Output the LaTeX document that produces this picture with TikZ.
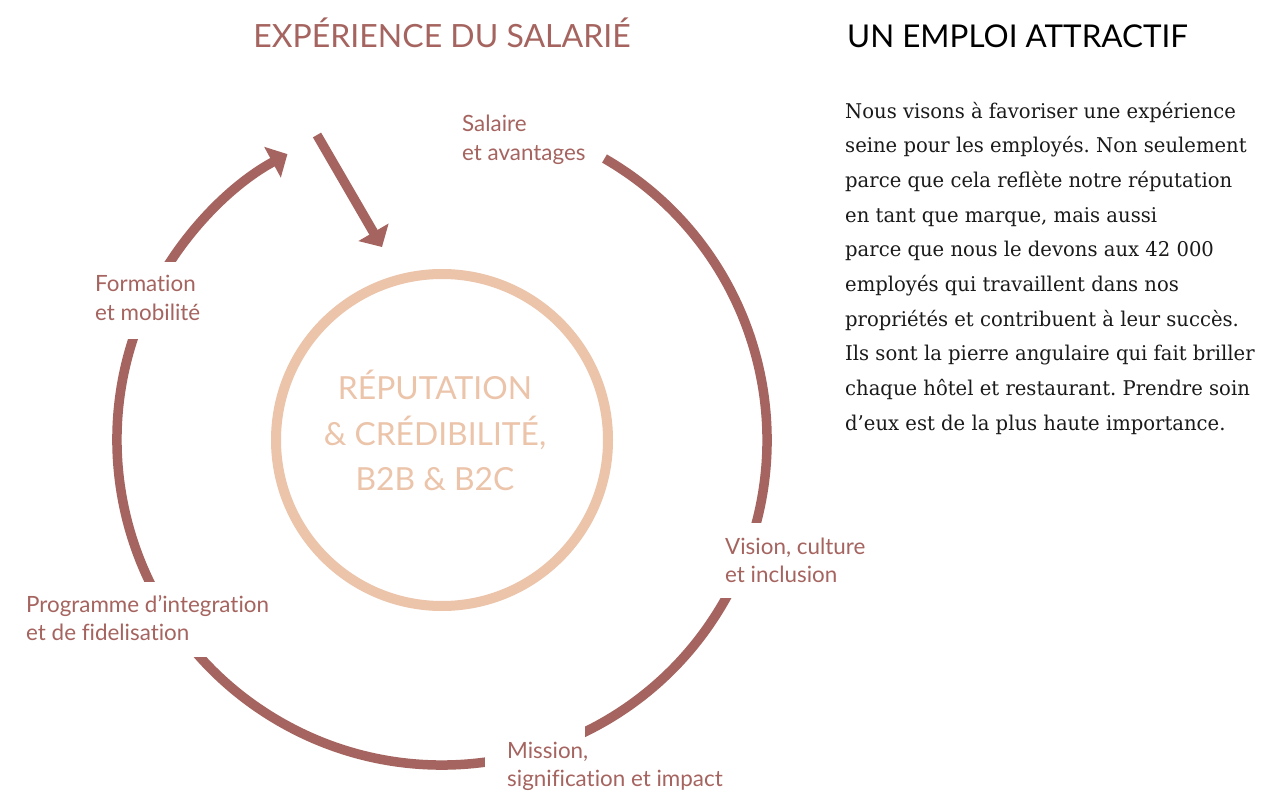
\documentclass[tikz,border=0pt]{standalone}
\usepackage{fontspec}
\setmainfont[FakeStretch=0.965]{DejaVu Serif}
\newfontfamily\labelfont[Ligatures=NoCommon]{Lato}
\usetikzlibrary{arrows.meta}
\definecolor{rose}{HTML}{A5645F}
\definecolor{peach}{HTML}{EBC4AA}
\definecolor{ink}{HTML}{1A1A1A}
\frenchspacing
\begin{document}
\begin{tikzpicture}[x=1pt,y=-1pt,
  ring/.style={draw=rose, line width=9.5pt},
  tip/.style={-{Triangle[width=34pt,length=17pt]}},
  mask/.style={fill=white, draw=none},
  lbl/.style={anchor=base west, inner sep=0pt, text=rose,
    font=\labelfont\fontsize{22.4}{28.7}\selectfont},
  title/.style={anchor=base, inner sep=0pt, text=rose,
    font=\labelfont\fontsize{32}{36}\selectfont},
  heading/.style={anchor=base west, inner sep=0pt, text=black,
    font=\labelfont\fontsize{31.4}{36}\selectfont},
  core/.style={anchor=base, inner sep=0pt, text=peach,
    font=\labelfont\fontsize{31.8}{45.5}\selectfont},
  para/.style={anchor=base west, inner sep=0pt, text=ink,
    font=\fontsize{20.3}{34.67}\selectfont}
]
\useasboundingbox (0,0) rectangle (1264,791);
\fill[white] (0,0) rectangle (1264,791);
\coordinate (c) at (442,440);
% outer cycle
\draw[ring, tip] ([shift={(-60:325)}]c) arc[start angle=-60, end angle=241.6, radius=325];
% gaps cut by the labels
\fill[mask] (100,262) rectangle (205,339);
\fill[mask] (20,582) rectangle (275,657);
\fill[mask] (700,523) rectangle (870,598);
\fill[mask] (485,690) rectangle (585,791);
% arrow into the core
\coordinate (a0) at (317,135);
\coordinate (a1) at (382,247);
\draw[ring, tip] (a0) -- (a1);
% inner circle
\draw[draw=peach, line width=10pt] (c) circle[radius=166];
% texts
\node[title] (t) at (442,47.3) {EXPÉRIENCE DU SALARIÉ};
\node[core] (core) at (435,400) {\parbox[t]{320pt}{\centering RÉPUTATION\\ \&~CRÉDIBILITÉ,\\ B2B \&~B2C}};
\node[lbl] (l1) at (462,132) {\parbox[t]{300pt}{Salaire\\ et avantages}};
\node[lbl] (l2) at (725,554) {\parbox[t]{300pt}{Vision, culture\\ et inclusion}};
\node[lbl] (l3) at (507,758) {\parbox[t]{300pt}{Mission,\\ signification et impact}};
\node[lbl] (l4) at (26,612) {\parbox[t]{300pt}{Programme d’integration\\ et de fidelisation}};
\node[lbl] (l5) at (95,292) {\parbox[t]{300pt}{Formation\\ et mobilité}};
\node[heading] (h) at (847,47.3) {UN EMPLOI ATTRACTIF};
\node[para] (p) at (845,118.3) {\parbox[t]{600pt}{\raggedright
Nous visons à favoriser une expérience\\
seine pour les employés. Non seulement\\
parce que cela reflète notre réputation\\
en tant que marque, mais aussi\\
parce que nous le devons aux 42~000\\
employés qui travaillent dans nos\\
propriétés et contribuent à leur succès.\\
Ils sont la pierre angulaire qui fait briller\\
chaque hôtel et restaurant. Prendre soin\\
d’eux est de la plus haute importance.}};
\end{tikzpicture}
\end{document}
